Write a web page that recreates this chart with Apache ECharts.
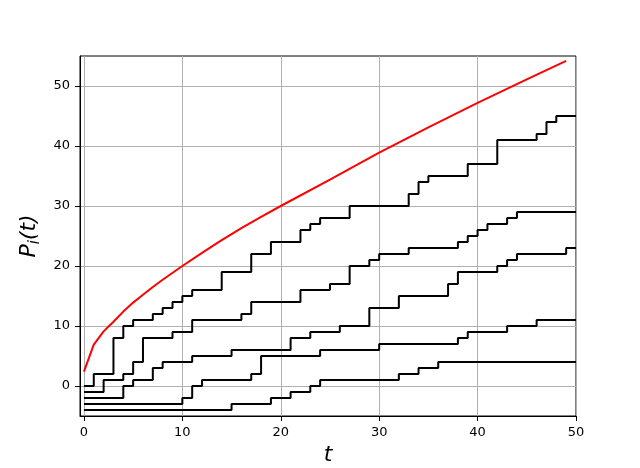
<!DOCTYPE html>
<html>
<head>
<meta charset="utf-8">
<script src="https://cdn.jsdelivr.net/npm/echarts@6/dist/echarts.min.js"></script>
<style>
  html, body { margin: 0; padding: 0; background: #fff; }
  #chart { width: 640px; height: 468px; }
</style>
</head>
<body>
<div id="chart"></div>
<script>
// mean curve (red)
const curveT = [0, 1, 2, 3, 4, 5, 6, 7, 8, 10, 12, 14, 16, 18, 20, 25, 30, 35, 40, 45, 49]
const curveP = [2.4, 6.9, 9.1, 10.7, 12.4, 13.9, 15.2, 16.5, 17.7, 20.0, 22.2, 24.3, 26.3, 28.2, 30.0, 34.4, 38.9, 43.1, 47.2, 51.1, 54.2]

// individual paths: jump times and the value held after each jump
const pathT1 = [0, 1, 3, 4, 5, 7, 8, 9, 10, 11, 14, 17, 19, 22, 23, 24, 27, 33, 34, 35, 39, 42, 46, 47, 48, 50]
const pathP1 = [0, 2, 8, 10, 11, 12, 13, 14, 15, 16, 19, 22, 24, 26, 27, 28, 30, 32, 34, 35, 37, 41, 42, 44, 45, 45]

const pathT2 = [0, 2, 4, 5, 6, 9, 11, 16, 17, 22, 25, 27, 29, 30, 33, 38, 39, 40, 41, 43, 44, 50]
const pathP2 = [-1, 1, 2, 4, 8, 9, 11, 12, 14, 16, 17, 20, 21, 22, 23, 24, 25, 26, 27, 28, 29, 29]

const pathT3 = [0, 4, 5, 7, 8, 11, 15, 21, 23, 26, 29, 32, 37, 38, 42, 43, 44, 49, 50]
const pathP3 = [-2, 0, 1, 3, 4, 5, 6, 8, 9, 10, 13, 15, 17, 19, 20, 21, 22, 23, 23]

const pathT4 = [0, 10, 11, 12, 17, 18, 24, 30, 38, 39, 43, 46, 50]
const pathP4 = [-3, -2, 0, 1, 2, 5, 6, 7, 8, 9, 10, 11, 11]

const pathT5 = [0, 15, 19, 21, 23, 24, 32, 34, 36, 50]
const pathP5 = [-4, -3, -2, -1, 0, 1, 2, 3, 4, 4]

const tickVals = [0, 10, 20, 30, 40, 50]

const zip = (a, b) => a.map((v, i) => [v, b[i]])

const chart = echarts.init(document.getElementById('chart'))

const stepSeries = [
  [pathT1, pathP1],
  [pathT2, pathP2],
  [pathT3, pathP3],
  [pathT4, pathP4],
  [pathT5, pathP5]
].map(([t, p]) => ({
  type: 'line',
  step: 'end',
  data: zip(t, p),
  symbol: 'none',
  lineStyle: { color: '#000', width: 2 },
  z: 3
}))

const font = 'DejaVu Sans'

chart.setOption({
  animation: false,
  grid: {
    left: 80,
    right: 64,
    top: 56,
    bottom: 52,
    outerBoundsMode: 'none',
    show: true,
    borderColor: '#000',
    borderWidth: 1,
    backgroundColor: 'transparent'
  },
  xAxis: {
    type: 'value',
    min: -0.4,
    max: 50,
    name: 't',
    nameLocation: 'middle',
    nameGap: 28,
    nameTextStyle: { fontSize: 22, fontStyle: 'italic', fontFamily: font, color: '#000' },
    axisLine: { show: true, onZero: false, lineStyle: { color: '#000', width: 1 } },
    axisTick: { show: true, length: 5, customValues: tickVals, lineStyle: { color: '#000', width: 1 } },
    axisLabel: { customValues: tickVals, margin: 10, fontSize: 13, fontFamily: font, color: '#000' },
    splitLine: { show: true, lineStyle: { color: '#b0b0b0', width: 1 } }
  },
  yAxis: {
    type: 'value',
    min: -5,
    max: 55,
    name: '{a|P}{b|i}{a|(t)}',
    nameLocation: 'middle',
    nameGap: 28,
    nameRotate: 90,
    nameTextStyle: {
      color: '#000',
      rich: {
        a: { fontSize: 22, fontStyle: 'italic', fontFamily: font, color: '#000', verticalAlign: 'top', lineHeight: 24 },
        b: { fontSize: 15, fontStyle: 'italic', fontFamily: font, color: '#000', verticalAlign: 'top', lineHeight: 16, padding: [9, 0, 0, 0] }
      }
    },
    axisLine: { show: true, onZero: false, lineStyle: { color: '#000', width: 1 } },
    axisTick: { show: true, length: 5, customValues: tickVals, lineStyle: { color: '#000', width: 1 } },
    axisLabel: { customValues: tickVals, margin: 10, fontSize: 13, fontFamily: font, color: '#000' },
    splitLine: { show: true, lineStyle: { color: '#b0b0b0', width: 1 } }
  },
  series: [
    {
      type: 'line',
      data: zip(curveT, curveP),
      symbol: 'none',
      lineStyle: { color: '#ff0000', width: 2 },
      z: 4
    },
    ...stepSeries
  ]
})
</script>
</body>
</html>
